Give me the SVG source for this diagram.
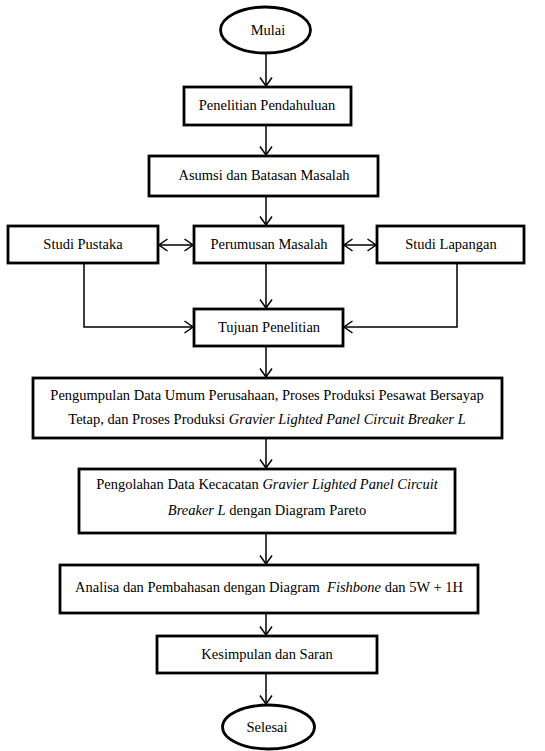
<svg xmlns="http://www.w3.org/2000/svg" width="545" height="751" viewBox="0 0 545 751">
<defs>
<style>
.box{fill:#fff;stroke:#000;stroke-width:2.8}
.term{fill:#fff;stroke:#000;stroke-width:2.8}
text{font-family:'Liberation Serif','DejaVu Serif',serif;font-size:14.5px;fill:#000;text-anchor:middle}
.i{font-style:italic}
.c{fill:none;stroke:#000;stroke-width:1.5}
</style>
<marker id="arr" viewBox="0 0 10 14" refX="9" refY="7" markerWidth="10" markerHeight="14" markerUnits="userSpaceOnUse" orient="auto-start-reverse">
<path d="M0.5,1 L9,7 L0.5,13" fill="none" stroke="#000" stroke-width="1.5"/>
</marker>
</defs>
<rect width="545" height="751" fill="#fff"/>
<g id="connectors">
<path class="c" d="M266,53 V86" marker-end="url(#arr)"/>
<path class="c" d="M266,125 V155" marker-end="url(#arr)"/>
<path class="c" d="M266,196 V225" marker-end="url(#arr)"/>
<path class="c" d="M159,245 H193" marker-start="url(#arr)" marker-end="url(#arr)"/>
<path class="c" d="M344,245 H376" marker-start="url(#arr)" marker-end="url(#arr)"/>
<path class="c" d="M266,263 V308" marker-end="url(#arr)"/>
<path class="c" d="M84,263 V327 H193" marker-end="url(#arr)"/>
<path class="c" d="M457,263 V327 H344" marker-end="url(#arr)"/>
<path class="c" d="M266,346 V377" marker-end="url(#arr)"/>
<path class="c" d="M266,438 V468" marker-end="url(#arr)"/>
<path class="c" d="M266,533 V564" marker-end="url(#arr)"/>
<path class="c" d="M266,613 V635" marker-end="url(#arr)"/>
<path class="c" d="M266,673 V704" marker-end="url(#arr)"/>
</g>
<g id="mulai">
<ellipse class="term" cx="265.5" cy="30" rx="45" ry="23"/>
<text x="268" y="35">Mulai</text>
</g>
<g id="penelitian-pendahuluan">
<rect class="box" x="184" y="87" width="167" height="38"/>
<text x="267" y="110">Penelitian Pendahuluan</text>
</g>
<g id="asumsi">
<rect class="box" x="149" y="156" width="229" height="40"/>
<text x="264" y="180">Asumsi dan Batasan Masalah</text>
</g>
<g id="studi-pustaka">
<rect class="box" x="8" y="226" width="150" height="37"/>
<text x="83" y="249">Studi Pustaka</text>
</g>
<g id="perumusan-masalah">
<rect class="box" x="194" y="226" width="149" height="37"/>
<text x="269" y="249">Perumusan Masalah</text>
</g>
<g id="studi-lapangan">
<rect class="box" x="377" y="226" width="147" height="37"/>
<text x="451" y="249">Studi Lapangan</text>
</g>
<g id="tujuan-penelitian">
<rect class="box" x="194" y="309" width="149" height="37"/>
<text x="269" y="332">Tujuan Penelitian</text>
</g>
<g id="pengumpulan-data">
<rect class="box" x="33" y="378" width="469" height="60"/>
<text x="267" y="400">Pengumpulan Data Umum Perusahaan, Proses Produksi Pesawat Bersayap</text>
<text x="267" y="424">Tetap, dan Proses Produksi <tspan class="i">Gravier Lighted Panel Circuit Breaker L</tspan></text>
</g>
<g id="pengolahan-data">
<rect class="box" x="79" y="469" width="376" height="64"/>
<text x="267" y="489">Pengolahan Data Kecacatan <tspan class="i">Gravier Lighted Panel Circuit</tspan></text>
<text x="267" y="515"><tspan class="i">Breaker L</tspan> dengan Diagram Pareto</text>
</g>
<g id="analisa">
<rect class="box" x="60" y="565" width="418" height="48"/>
<text x="269" y="592" xml:space="preserve">Analisa dan Pembahasan dengan Diagram  <tspan class="i">Fishbone</tspan> dan 5W + 1H</text>
</g>
<g id="kesimpulan">
<rect class="box" x="157" y="636" width="220" height="37"/>
<text x="267" y="659">Kesimpulan dan Saran</text>
</g>
<g id="selesai">
<ellipse class="term" cx="268.5" cy="727" rx="46" ry="22"/>
<text x="267" y="732">Selesai</text>
</g>
</svg>
